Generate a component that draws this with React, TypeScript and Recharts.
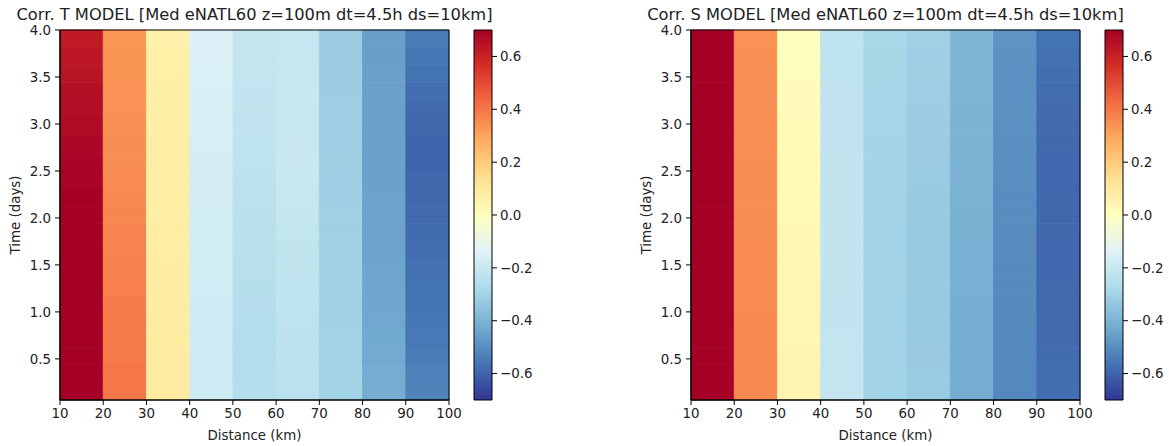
import React from 'react'
import { ComposedChart, XAxis, YAxis, ReferenceArea } from 'recharts'

// distance bin edges (km) and time bin edges (days), dt = 4.5h
const distanceEdges = [10, 20, 30, 40, 50, 60, 70, 80, 90, 100]
const timeEdges = [
  0.0625, 0.25, 0.4375, 0.625, 0.8125, 1.0, 1.1875, 1.375, 1.5625, 1.75, 1.9375,
  2.125, 2.3125, 2.5, 2.6875, 2.875, 3.0625, 3.25, 3.4375, 3.625, 3.8125, 4.0,
]
const distanceTicks = [10, 20, 30, 40, 50, 60, 70, 80, 90, 100]
const timeTicks = [0.5, 1.0, 1.5, 2.0, 2.5, 3.0, 3.5, 4.0]
const colorbarTicks = [-0.6, -0.4, -0.2, 0.0, 0.2, 0.4, 0.6]

// correlation of T, one array per distance bin, rows from first to last time bin
const corrT_10 = [0.74, 0.74, 0.73, 0.73, 0.72, 0.72, 0.72, 0.71, 0.71, 0.71, 0.70, 0.70, 0.69, 0.685, 0.68, 0.67, 0.66, 0.655, 0.645, 0.635, 0.625]
const corrT_20 = [0.40, 0.40, 0.395, 0.39, 0.39, 0.385, 0.38, 0.375, 0.37, 0.37, 0.365, 0.36, 0.355, 0.35, 0.35, 0.345, 0.34, 0.34, 0.335, 0.335, 0.33]
const corrT_30 = [0.09, 0.09, 0.09, 0.088, 0.087, 0.086, 0.085, 0.084, 0.083, 0.082, 0.08, 0.079, 0.078, 0.077, 0.076, 0.075, 0.074, 0.072, 0.07, 0.068, 0.065]
const corrT_40 = [-0.185, -0.185, -0.184, -0.183, -0.182, -0.181, -0.18, -0.178, -0.177, -0.175, -0.174, -0.172, -0.17, -0.168, -0.166, -0.164, -0.162, -0.16, -0.158, -0.155, -0.15]
const corrT_50 = [-0.255, -0.256, -0.257, -0.256, -0.255, -0.252, -0.25, -0.248, -0.245, -0.242, -0.24, -0.237, -0.234, -0.23, -0.228, -0.225, -0.222, -0.219, -0.216, -0.213, -0.211]
const corrT_60 = [-0.235, -0.235, -0.234, -0.232, -0.23, -0.228, -0.226, -0.222, -0.22, -0.216, -0.212, -0.208, -0.205, -0.204, -0.204, -0.205, -0.206, -0.207, -0.208, -0.21, -0.21]
const corrT_70 = [-0.30, -0.30, -0.302, -0.303, -0.304, -0.305, -0.306, -0.307, -0.308, -0.309, -0.31, -0.311, -0.312, -0.313, -0.314, -0.315, -0.316, -0.317, -0.318, -0.32, -0.321]
const corrT_80 = [-0.416, -0.42, -0.424, -0.428, -0.432, -0.435, -0.438, -0.44, -0.442, -0.444, -0.445, -0.446, -0.447, -0.448, -0.449, -0.45, -0.45, -0.451, -0.451, -0.452, -0.452]
const corrT_90 = [-0.525, -0.53, -0.545, -0.55, -0.555, -0.56, -0.565, -0.57, -0.575, -0.58, -0.585, -0.59, -0.59, -0.595, -0.595, -0.59, -0.585, -0.575, -0.565, -0.555, -0.545]

// correlation of S
const corrS_10 = [0.78, 0.78, 0.77, 0.77, 0.77, 0.76, 0.76, 0.76, 0.75, 0.75, 0.75, 0.75, 0.74, 0.74, 0.74, 0.73, 0.73, 0.73, 0.72, 0.72, 0.72]
const corrS_20 = [0.36, 0.36, 0.36, 0.358, 0.357, 0.356, 0.355, 0.354, 0.353, 0.352, 0.351, 0.35, 0.349, 0.348, 0.347, 0.346, 0.345, 0.344, 0.343, 0.342, 0.34]
const corrS_30 = [0.045, 0.044, 0.043, 0.042, 0.04, 0.038, 0.036, 0.034, 0.032, 0.03, 0.028, 0.026, 0.024, 0.022, 0.02, 0.018, 0.016, 0.013, 0.01, 0.007, 0.004]
const corrS_40 = [-0.217, -0.217, -0.218, -0.218, -0.219, -0.219, -0.22, -0.22, -0.221, -0.221, -0.222, -0.222, -0.223, -0.223, -0.224, -0.224, -0.225, -0.225, -0.226, -0.226, -0.227]
const corrS_50 = [-0.302, -0.302, -0.302, -0.302, -0.302, -0.302, -0.301, -0.301, -0.3, -0.3, -0.299, -0.298, -0.297, -0.296, -0.295, -0.294, -0.293, -0.292, -0.29, -0.289, -0.287]
const corrS_60 = [-0.325, -0.326, -0.327, -0.328, -0.328, -0.329, -0.329, -0.33, -0.33, -0.33, -0.329, -0.328, -0.326, -0.324, -0.322, -0.32, -0.318, -0.316, -0.313, -0.311, -0.308]
const corrS_70 = [-0.42, -0.419, -0.418, -0.416, -0.415, -0.413, -0.412, -0.41, -0.409, -0.407, -0.406, -0.404, -0.403, -0.401, -0.4, -0.399, -0.397, -0.396, -0.395, -0.393, -0.392]
const corrS_80 = [-0.512, -0.511, -0.51, -0.509, -0.508, -0.507, -0.506, -0.505, -0.503, -0.502, -0.5, -0.499, -0.497, -0.496, -0.494, -0.493, -0.491, -0.49, -0.489, -0.487, -0.486]
const corrS_90 = [-0.575, -0.578, -0.58, -0.582, -0.584, -0.586, -0.587, -0.588, -0.589, -0.59, -0.59, -0.59, -0.589, -0.588, -0.586, -0.584, -0.581, -0.578, -0.574, -0.569, -0.563]

const corrT = [corrT_10, corrT_20, corrT_30, corrT_40, corrT_50, corrT_60, corrT_70, corrT_80, corrT_90]
const corrS = [corrS_10, corrS_20, corrS_30, corrS_40, corrS_50, corrS_60, corrS_70, corrS_80, corrS_90]

const VMIN = -0.7
const VMAX = 0.7

// RdYlBu_r
const cmap = [
  '#313695', '#4575b4', '#74add1', '#abd9e9', '#e0f3f8', '#ffffbf',
  '#fee090', '#fdae61', '#f46d43', '#d73027', '#a50026',
]

const hexToRgb = (h: string) => [1, 3, 5].map((i) => parseInt(h.slice(i, i + 2), 16))

function colorFor(v: number) {
  let t = (v - VMIN) / (VMAX - VMIN)
  t = Math.max(0, Math.min(1, t))
  const pos = t * (cmap.length - 1)
  const i = Math.min(Math.floor(pos), cmap.length - 2)
  const f = pos - i
  const a = hexToRgb(cmap[i])
  const b = hexToRgb(cmap[i + 1])
  const c = a.map((x, k) => Math.round(x + (b[k] - x) * f))
  return `rgb(${c[0]},${c[1]},${c[2]})`
}

const FONT = "'DejaVu Sans', sans-serif"
const TEXT = '#222'
const tickStyle = { fill: TEXT, fontSize: 13.4, fontFamily: FONT }
const fmt = (v: number) => v.toFixed(1).replace('-', '\u2212')

function Panel({ left, title, values, id }: { left: number; title: string; values: number[][]; id: string }) {
  const cells: React.ReactNode[] = []
  values.forEach((col, ci) => {
    col.forEach((v, ri) => {
      const c = colorFor(v)
      cells.push(
        <ReferenceArea
          key={`${ci}-${ri}`}
          x1={distanceEdges[ci]}
          x2={distanceEdges[ci + 1]}
          y1={timeEdges[ri]}
          y2={timeEdges[ri + 1]}
          fill={c}
          fillOpacity={1}
          stroke={c}
          strokeWidth={0.8}
          ifOverflow="visible"
        />
      )
    })
  })

  return (
    <>
      <div style={{ position: 'absolute', left, top: 0 }}>
        <ComposedChart width={480} height={446} margin={{ top: 30, right: 31, bottom: 6, left: 5 }}>
          <XAxis
            type="number"
            dataKey="x"
            domain={[10, 100]}
            ticks={distanceTicks}
            allowDataOverflow
            height={40}
            tick={tickStyle}
            tickSize={5}
            tickMargin={3}
            axisLine={{ stroke: '#000', strokeWidth: 1 }}
            tickLine={{ stroke: '#000', strokeWidth: 1 }}
          />
          <YAxis
            type="number"
            dataKey="y"
            domain={[0.0625, 4]}
            ticks={timeTicks}
            allowDataOverflow
            width={55}
            tick={tickStyle}
            tickSize={5}
            tickMargin={4}
            tickFormatter={fmt}
            axisLine={{ stroke: '#000', strokeWidth: 1 }}
            tickLine={{ stroke: '#000', strokeWidth: 1 }}
          />
          {cells}
          <ReferenceArea x1={10} x2={100} y1={0.0625} y2={4} fill="none" stroke="#000" strokeWidth={1} ifOverflow="visible" />
        </ComposedChart>
      </div>

      <div style={{ position: 'absolute', left: left + 469, top: 0 }}>
        <ComposedChart width={80} height={446} margin={{ top: 30, right: 0, bottom: 46, left: 5 }}>
          <defs>
            <linearGradient id={`cbar-${id}`} x1="0" y1="1" x2="0" y2="0">
              {cmap.map((c, i) => (
                <stop key={i} offset={`${(i / (cmap.length - 1)) * 100}%`} stopColor={c} />
              ))}
            </linearGradient>
          </defs>
          <XAxis type="number" dataKey="x" domain={[0, 1]} allowDataOverflow hide height={0} />
          <YAxis
            type="number"
            dataKey="y"
            orientation="right"
            domain={[VMIN, VMAX]}
            ticks={colorbarTicks}
            allowDataOverflow
            width={57}
            tick={tickStyle}
            tickSize={5}
            tickMargin={3}
            tickFormatter={fmt}
            axisLine={false}
            tickLine={{ stroke: '#000', strokeWidth: 1 }}
          />
          <ReferenceArea
            x1={0}
            x2={1}
            y1={VMIN}
            y2={VMAX}
            fill={`url(#cbar-${id})`}
            fillOpacity={1}
            stroke="#000"
            strokeWidth={1}
            ifOverflow="visible"
          />
        </ComposedChart>
      </div>

      <div
        style={{
          position: 'absolute', left: left + 254.5, top: 8, transform: 'translateX(-50%)',
          whiteSpace: 'nowrap', fontFamily: FONT, fontSize: 16.3, lineHeight: '14px', color: TEXT,
        }}
      >
        {title}
      </div>
      <div
        style={{
          position: 'absolute', left: left + 254.5, top: 427, transform: 'translateX(-50%)',
          whiteSpace: 'nowrap', fontFamily: FONT, fontSize: 13.4, lineHeight: '18px', color: TEXT,
        }}
      >
        Distance (km)
      </div>
      <div
        style={{
          position: 'absolute', left: left + 16, top: 215, transform: 'translate(-50%, -50%) rotate(-90deg)',
          whiteSpace: 'nowrap', fontFamily: FONT, fontSize: 13.4, lineHeight: '18px', color: TEXT,
        }}
      >
        Time (days)
      </div>
    </>
  )
}

export default function App() {
  return (
    <div style={{ position: 'absolute', left: 0, top: 0, width: 1169, height: 446, background: '#fff', overflow: 'hidden' }}>
      <Panel left={0} id="t" title="Corr. T MODEL [Med eNATL60 z=100m dt=4.5h ds=10km]" values={corrT} />
      <Panel left={631} id="s" title="Corr. S MODEL [Med eNATL60 z=100m dt=4.5h ds=10km]" values={corrS} />
    </div>
  )
}
